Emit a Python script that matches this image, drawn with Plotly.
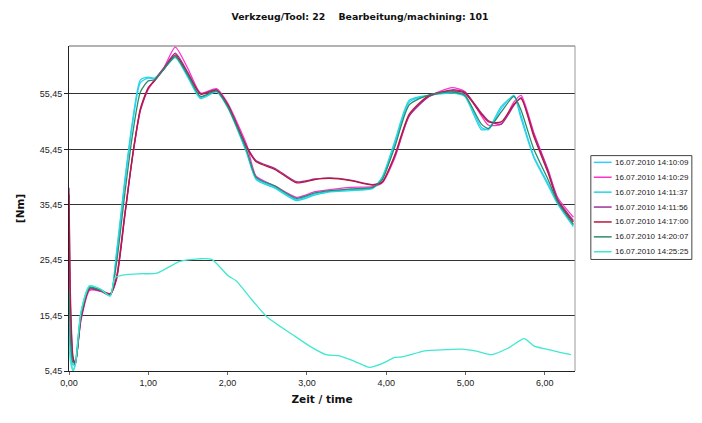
import plotly.graph_objects as go

# ---- data ----
time_main = [0.00, 0.02, 0.05, 0.08, 0.15, 0.26, 0.40, 0.52, 0.60, 0.70, 0.80, 0.90,
             1.00, 1.08, 1.20, 1.34, 1.50, 1.66, 1.86, 2.00, 2.24, 2.36, 2.60, 2.87,
             3.10, 3.29, 3.55, 3.83, 3.95, 4.11, 4.29, 4.54, 4.83, 4.99, 5.20, 5.29,
             5.45, 5.61, 5.70, 5.86, 6.04, 6.16, 6.36]

s1 = [14.0, 9.0, 6.5, 7.0, 15.8, 20.6, 20.0, 19.0, 26.5, 39.0, 50.0, 57.5,
      58.3, 58.2, 60.0, 62.3, 58.6, 54.8, 56.0, 53.2, 45.0, 40.2, 38.6, 36.4,
      37.4, 37.9, 38.2, 38.5, 40.2, 46.5, 54.0, 55.2, 55.8, 55.3, 49.4, 49.0,
      52.8, 55.2, 51.5, 44.2, 39.3, 36.0, 31.8]
s2 = [28.0, 14.0, 7.5, 6.8, 14.5, 20.0, 19.8, 19.2, 22.5, 33.5, 44.0, 52.5,
      56.3, 58.0, 60.3, 63.9, 60.0, 55.6, 56.4, 53.8, 46.3, 40.6, 38.8, 36.8,
      37.8, 38.2, 38.6, 38.7, 39.4, 44.0, 51.5, 55.0, 56.6, 55.9, 51.5, 49.8,
      50.0, 54.0, 55.2, 48.5, 41.8, 36.8, 33.2]
s3 = [12.0, 8.0, 5.6, 6.8, 16.0, 20.8, 20.2, 19.1, 27.0, 39.5, 50.5, 58.0,
      58.5, 58.3, 60.0, 62.0, 58.4, 54.6, 55.8, 53.0, 44.8, 40.0, 38.4, 36.2,
      37.2, 37.8, 38.0, 38.4, 40.5, 47.0, 54.3, 55.2, 55.6, 55.0, 49.0, 49.2,
      53.2, 55.0, 51.0, 44.0, 39.0, 35.6, 31.5]
s4 = [38.5, 18.0, 8.0, 6.6, 14.8, 20.2, 19.9, 19.3, 22.0, 33.0, 44.0, 52.5,
      56.5, 58.0, 60.2, 62.8, 59.3, 55.5, 56.2, 53.6, 46.0, 43.4, 42.0, 39.6,
      40.1, 40.3, 39.9, 39.1, 39.6, 44.3, 51.5, 55.0, 56.2, 55.8, 52.0, 50.6,
      50.0, 53.4, 54.8, 48.2, 41.6, 36.5, 32.6]
s5 = [37.3, 16.0, 7.8, 6.7, 15.0, 20.4, 20.0, 19.4, 22.3, 33.2, 44.2, 52.8,
      56.6, 57.8, 60.0, 62.5, 59.0, 55.4, 56.1, 53.5, 45.8, 43.2, 41.8, 39.4,
      40.0, 40.2, 39.8, 39.0, 39.5, 44.5, 51.8, 55.2, 56.0, 55.6, 51.8, 50.4,
      50.4, 53.6, 54.6, 47.8, 41.2, 36.2, 32.3]
s6 = [20.0, 11.0, 7.0, 6.9, 15.5, 20.5, 20.0, 19.1, 25.0, 37.0, 48.0, 55.8,
      57.8, 58.0, 60.0, 62.2, 58.8, 55.0, 56.0, 53.2, 45.3, 40.4, 38.8, 36.6,
      37.6, 38.0, 38.3, 38.6, 40.0, 46.0, 53.5, 55.3, 55.8, 55.2, 50.0, 49.2,
      52.2, 55.0, 52.5, 45.5, 40.0, 36.0, 31.9]

time_s7 = [0.00, 0.02, 0.05, 0.08, 0.15, 0.26, 0.40, 0.52, 0.58, 0.70, 0.90, 1.11,
           1.39, 1.64, 1.80, 2.01, 2.11, 2.30, 2.49, 2.83, 3.05, 3.24, 3.41, 3.60,
           3.79, 3.95, 4.11, 4.20, 4.49, 4.75, 4.95, 5.15, 5.33, 5.54, 5.74, 5.86,
           6.11, 6.33]
s7 = [10.0, 7.0, 5.45, 6.5, 16.0, 20.8, 20.2, 19.0, 22.3, 22.8, 23.0, 23.1,
      25.2, 25.7, 25.6, 22.6, 21.7, 18.4, 15.3, 11.9, 9.8, 8.4, 8.2, 7.2,
      6.1, 6.8, 7.9, 8.0, 9.1, 9.3, 9.4, 9.0, 8.4, 9.6, 11.3, 10.0,
      9.1, 8.4]

series_names = ["16.07.2010 14:10:09", "16.07.2010 14:10:29", "16.07.2010 14:11:37",
                "16.07.2010 14:11:56", "16.07.2010 14:17:00", "16.07.2010 14:20:07",
                "16.07.2010 14:25:25"]
series_colors = ["#33CCFF", "#FF33CC", "#22D8E0", "#993399", "#B8163F", "#2E8B6E", "#40E8D0"]

y_tickvals = [5.45, 15.45, 25.45, 35.45, 45.45, 55.45]
y_ticktext = ["5,45", "15,45", "25,45", "35,45", "45,45", "55,45"]
x_tickvals = [0, 1, 2, 3, 4, 5, 6]
x_ticktext = ["0,00", "1,00", "2,00", "3,00", "4,00", "5,00", "6,00"]

fig = go.Figure()
all_x = [time_main] * 6 + [time_s7]
all_y = [s1, s2, s3, s4, s5, s6, s7]
for name, col, xs, ys in zip(series_names, series_colors, all_x, all_y):
    fig.add_trace(go.Scatter(x=xs, y=ys, mode="lines", name=name, showlegend=False,
                             line=dict(color=col, width=1.3, shape="spline", smoothing=0.6)))

# page has an 8px body margin; figure is sized so the page exactly fills 702x423.
# plot area on page: x 64..575, y 46..384
PL, PR, PT, PB = 64, 575, 46, 384
def px_x(p):
    return (p - PL) / (PR - PL)
def px_y(p):
    return (PB - p) / (PB - PT)

# custom legend (box + line samples + labels)
fig.add_shape(type="rect", xref="paper", yref="paper",
              x0=px_x(591), x1=px_x(693), y0=px_y(268), y1=px_y(160),
              line=dict(color="#444", width=1), fillcolor="white")
for i, (name, col) in enumerate(zip(series_names, series_colors)):
    yy = px_y(167 + i * 15.5)
    fig.add_shape(type="line", xref="paper", yref="paper",
                  x0=px_x(594), x1=px_x(612), y0=yy, y1=yy,
                  line=dict(color=col, width=1.5))
    fig.add_annotation(xref="paper", yref="paper", x=px_x(613), y=yy,
                       xanchor="left", yanchor="middle", showarrow=False,
                       text=name, font=dict(size=8, color="#222"))

TITLE_FONT = "DejaVu Sans, Verdana, sans-serif"
W, H = 686, 407
fig.update_layout(
    width=W, height=H,
    margin=dict(l=PL - 8, r=W - (PR - 8), t=PT - 8, b=H - (PB - 8)),
    paper_bgcolor="white", plot_bgcolor="white",
    font=dict(family="Liberation Sans, Arial, sans-serif", size=9, color="#222"),
    title=dict(text="<b>Verkzeug/Tool: 22&nbsp;&nbsp;&nbsp;&nbsp;Bearbeitung/machining: 101</b>",
               x=(360 - 8) / W, xanchor="center", y=1 - 8.5 / H, yanchor="middle",
               font=dict(size=9.4, color="#111", family=TITLE_FONT)),
    showlegend=False,
)
fig.update_xaxes(range=[0, 6.38], tickvals=x_tickvals, ticktext=x_ticktext,
                 showgrid=False, zeroline=False, showline=True, linecolor="#222", linewidth=1,
                 ticks="outside", ticklen=3, tickcolor="#666",
                 title=dict(text="<b>Zeit / time</b>", font=dict(size=10.5, color="#111", family=TITLE_FONT),
                            standoff=8))
fig.update_yaxes(range=[5.45, 64.1], tickvals=y_tickvals, ticktext=y_ticktext,
                 showgrid=True, gridcolor="#333", gridwidth=1, zeroline=False,
                 showline=True, linecolor="#222", linewidth=1,
                 ticks="outside", ticklen=4, tickcolor="#222",
                 title=dict(text="<b>[Nm]</b>", font=dict(size=10.5, color="#111", family=TITLE_FONT),
                            standoff=12))
# top & right border of plot area (grey)
fig.add_shape(type="line", xref="paper", yref="paper", x0=0, x1=1, y0=1, y1=1,
              line=dict(color="#666", width=1))
fig.add_shape(type="line", xref="paper", yref="paper", x0=1, x1=1, y0=0, y1=1,
              line=dict(color="#999", width=1))

fig.write_html("out.html")
